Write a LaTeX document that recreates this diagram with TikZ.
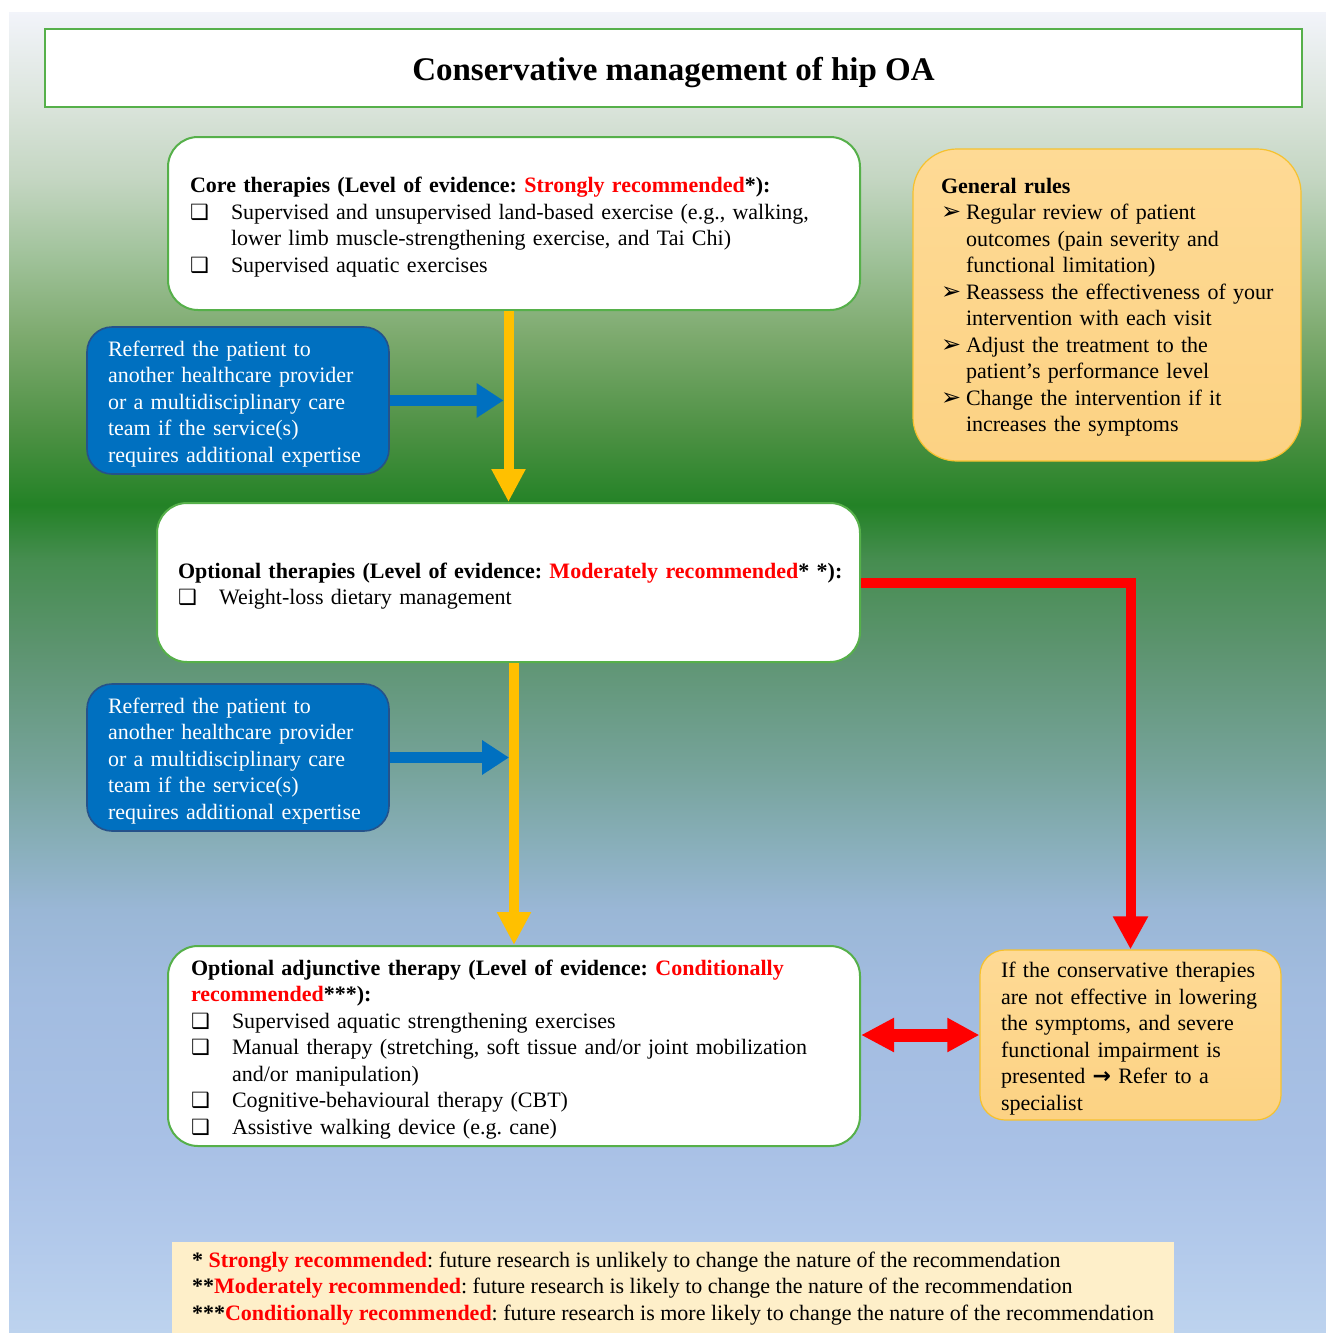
\documentclass[tikz,border=0pt]{standalone}
\usepackage{fontspec}
\setmainfont{Liberation Serif}
\newfontfamily\symfont{DejaVu Sans}
\usetikzlibrary{arrows.meta}

\definecolor{boxgreen}{HTML}{56B04A}
\definecolor{rulefilltop}{HTML}{FEDA95}
\definecolor{rulefillbot}{HTML}{FCD283}
\definecolor{ruleedge}{HTML}{F6C12E}
\definecolor{referblue}{HTML}{0070C0}
\definecolor{referedge}{HTML}{25528A}
\definecolor{flowgold}{HTML}{FFC000}
\definecolor{notered}{HTML}{FF0000}
\definecolor{notefill}{HTML}{FEEFC9}

% background colours, bottom to top
\definecolor{bgA}{HTML}{BDD3EE}
\definecolor{bgB}{HTML}{B3CAEB}
\definecolor{bgC}{HTML}{A9C1E6}
\definecolor{bgD}{HTML}{A2BCE0}
\definecolor{bgE}{HTML}{9AB7D6}
\definecolor{bgF}{HTML}{89AFBB}
\definecolor{bgG}{HTML}{76A39A}
\definecolor{bgH}{HTML}{5D9470}
\definecolor{bgI}{HTML}{468D50}
\definecolor{bgJ}{HTML}{238226}
\definecolor{bgK}{HTML}{4E9144}
\definecolor{bgL}{HTML}{7DAA6E}
\definecolor{bgM}{HTML}{A0C29A}
\definecolor{bgN}{HTML}{C4D6C2}
\definecolor{bgO}{HTML}{DCE5DD}
\definecolor{bgP}{HTML}{F2F4FA}
\pgfdeclareverticalshading{bgfade}{100bp}{color(0bp)=(bgA); color(25bp)=(bgA);
  color(28.14bp)=(bgB); color(31.93bp)=(bgC); color(37.98bp)=(bgD);
  color(41.01bp)=(bgE); color(43.4bp)=(bgF); color(46.39bp)=(bgG);
  color(50.85bp)=(bgH); color(54.26bp)=(bgI); color(56.34bp)=(bgJ);
  color(59.18bp)=(bgK); color(62.74bp)=(bgL); color(65.73bp)=(bgM);
  color(68.68bp)=(bgN); color(71.67bp)=(bgO); color(75bp)=(bgP); color(100bp)=(bgP)}

\setlength{\parindent}{0pt}
\setlength{\parskip}{0pt}
\frenchspacing
\newcommand{\evid}[1]{\textcolor{notered}{#1}}
\newcommand{\dropby}[1]{\par\kern-#1}
\newcommand{\sqitem}{\par\hangindent=20.5pt\hangafter=1\noindent\makebox[20.5pt][l]{\symfont\fontsize{10.5}{10.5}\selectfont ❑}}
\newcommand{\arritem}{\par\hangindent=12.5pt\hangafter=1\noindent\makebox[12.5pt][l]{\symfont\fontsize{12}{12}\selectfont ➢}}

\begin{document}
\begin{tikzpicture}[x=0.5pt,y=-0.5pt,
    every node/.style={font=\fontsize{11}{13.25}\selectfont},
    lowered/.style={execute at end node={\dropby{#1}}},
    card/.style={draw=boxgreen,line width=1pt,fill=white,rounded corners=15pt,align=left,lowered=3.5pt},
    rulebox/.style={draw=ruleedge,line width=0.6pt,top color=rulefilltop,bottom color=rulefillbot,align=left},
    referbox/.style={draw=referedge,line width=0.8pt,fill=referblue,text=white,rounded corners=12.5pt,
        align=left,minimum height=73.5pt,inner xsep=10.5pt,text width=130pt,lowered=3.5pt},
    goldflow/.style={draw=flowgold,line width=5pt,-{Triangle[length=16.5pt,width=16pt]}},
    blueflow/.style={draw=referblue,line width=5.5pt,shorten >=2.5pt,-{Triangle[length=13.5pt,width=16.5pt]}},
    redflow/.style={draw=notered,line width=5pt,line join=miter,-{Triangle[length=16.5pt,width=16.5pt]}}]

    \useasboundingbox (0,0) rectangle (1326,1333);
    \shade[shading=bgfade] (9,12) rectangle (1326,1333);

    \node[draw=boxgreen,line width=1.3pt,fill=white,minimum width=628.5pt,minimum height=39pt,
        text height=12pt,text depth=0pt,font=\fontsize{16.5}{19}\selectfont\bfseries] (title) at (673.5,68)
        {Conservative management of hip OA};

    \node[card,minimum height=86.5pt,inner xsep=11pt,text width=324pt] (core) at (514,223.5)
        {\mbox{\textbf{Core therapies (Level of evidence: \evid{Strongly recommended}*):}}
        \sqitem Supervised and unsupervised land-based exercise (e.g., walking,\newline
        lower limb muscle-strengthening exercise, and Tai Chi)
        \sqitem Supervised aquatic exercises};

    \node[rulebox,rounded corners=22pt,minimum height=156pt,inner xsep=14pt,text width=166pt,lowered=2pt] (rules) at (1107,305)
        {\textbf{General rules}
        \arritem Regular review of patient\newline outcomes (pain severity and\newline functional limitation)
        \arritem \mbox{Reassess the effectiveness of your}\newline intervention with each visit
        \arritem Adjust the treatment to the\newline patient's performance level
        \arritem Change the intervention if it\newline increases the symptoms\par};

    \node[referbox] (refA) at (238,400.5)
        {Referred the patient to\\ another healthcare provider\\ or a multidisciplinary care\\
        team if the service(s)\\ requires additional expertise};

    \node[card,minimum height=79.5pt,inner xsep=10.5pt,text width=330.5pt] (opt) at (508.5,582.5)
        {\mbox{\textbf{Optional therapies (Level of evidence: \evid{Moderately recommended}* *):}}
        \sqitem Weight-loss dietary management};

    \node[referbox] (refB) at (238,757.5)
        {Referred the patient to\\ another healthcare provider\\ or a multidisciplinary care\\
        team if the service(s)\\ requires additional expertise};

    \node[card,minimum height=100pt,inner xsep=11.5pt,text width=323pt] (adj) at (514,1046)
        {\textbf{Optional adjunctive therapy (Level of evidence: \evid{Conditionally}\newline
        \evid{recommended}***):}
        \sqitem Supervised aquatic strengthening exercises
        \sqitem \mbox{Manual therapy (stretching, soft tissue and/or joint mobilization}\newline
        and/or manipulation)
        \sqitem Cognitive-behavioural therapy (CBT)
        \sqitem Assistive walking device (e.g. cane)};

    \node[rulebox,rounded corners=12.5pt,minimum height=85pt,inner xsep=10.5pt,text width=129.5pt,lowered=3.5pt] (spec) at (1130.5,1035)
        {If the conservative therapies\\ are not effective in lowering\\ the symptoms, and severe\\
        functional impairment is\\ presented {\symfont\bfseries →} Refer to a\\ specialist};

    \node[fill=notefill,minimum width=501pt,minimum height=46.5pt,align=left] (notes) at (673,1288.5)
        {\textbf{* \evid{Strongly recommended}}: future research is unlikely to change the nature of the recommendation\\
        \textbf{**\evid{Moderately recommended}}: future research is likely to change the nature of the recommendation\\
        \textbf{***\evid{Conditionally recommended}}: future research is more likely to change the nature of the recommendation};

    \draw[goldflow] (opt.north |- core.south) -- (opt.north);
    \draw[goldflow] (adj.north |- opt.south) -- (adj.north);
    \draw[blueflow] (refA.east) -- (refA.east -| opt.north);
    \draw[blueflow] (refB.east) -- (refB.east -| adj.north);
    \draw[redflow] (opt.east) -- (opt.east -| spec.north) -- (spec.north);
    \draw[notered,line width=6.5pt,{Triangle[length=16.5pt,width=16pt]}-{Triangle[length=16pt,width=16pt]}]
        (spec.west -| adj.east) -- (spec.west);

\end{tikzpicture}
\end{document}
